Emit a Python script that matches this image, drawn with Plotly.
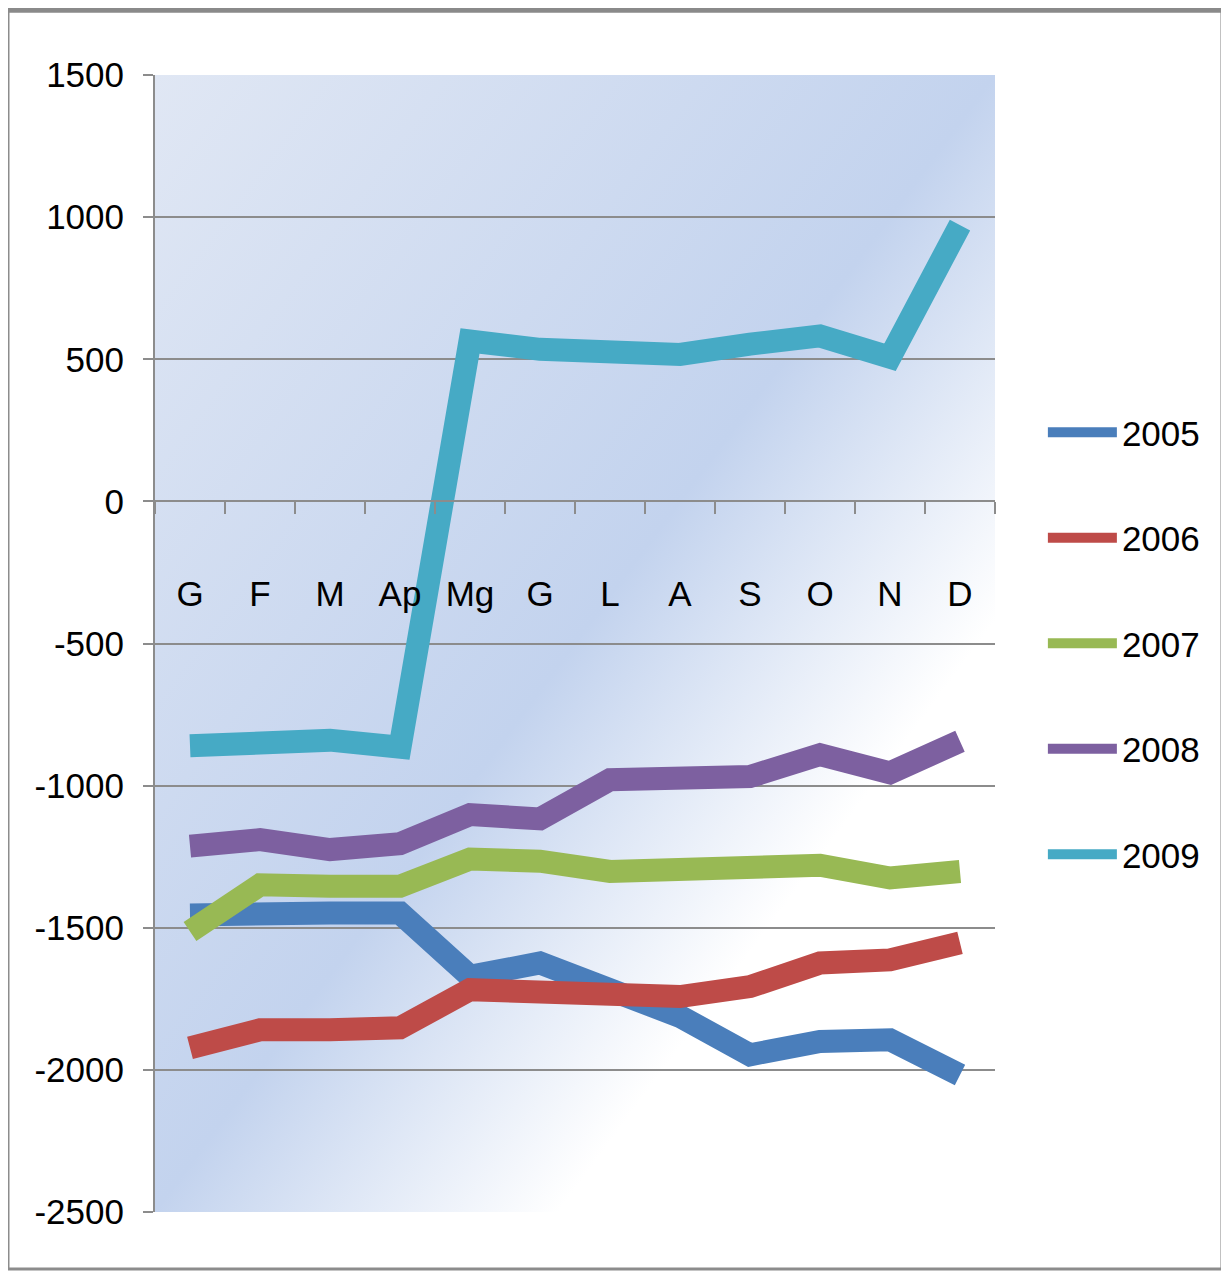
import base64
import plotly.graph_objects as go

months = ["G", "F", "M", "Ap", "Mg", "G", "L", "A", "S", "O", "N", "D"]
x_idx = list(range(len(months)))

years = ["2005", "2006", "2007", "2008", "2009"]
v2005 = [-1455, -1442, -1448, -1448, -1671, -1624, -1729, -1812, -1947, -1900, -1894, -2018]
v2006 = [-1923, -1859, -1859, -1852, -1718, -1724, -1736, -1742, -1707, -1624, -1613, -1553]
v2007 = [-1513, -1349, -1354, -1354, -1258, -1266, -1302, -1296, -1290, -1280, -1325, -1302]
v2008 = [-1213, -1190, -1225, -1204, -1102, -1117, -979, -976, -968, -891, -955, -844]
v2009 = [-860, -840, -840, -865, 564, 535, 517, 517, 553, 582, 507, 972]
series = [v2005, v2006, v2007, v2008, v2009]
colors = ["#4a7ebb", "#be4b48", "#98b954", "#7d60a0", "#46aac5"]

y_ticks = [-2500, -2000, -1500, -1000, -500, 0, 500, 1000, 1500]
y_ticktext = ["-2500", "-2000", "-1500", "-1000", "-500", "0", "500", "1000", "1500"]

FONT = "Liberation Sans, Arial, sans-serif"
FS = 35

fig = go.Figure()
for name, vals, col in zip(years, series, colors):
    fig.add_trace(go.Scatter(
        x=x_idx, y=vals, name=name, mode="lines",
        line=dict(color=col, width=23), legendgroup=name,
    ))

svg = ('<svg xmlns="http://www.w3.org/2000/svg" width="840" height="1137" '
       'viewBox="0 0 840 1137" preserveAspectRatio="none"><defs>'
       '<linearGradient id="g" x1="0" y1="0" x2="1" y2="1">'
       '<stop offset="0" stop-color="#e0e7f4"/>'
       '<stop offset="0.5" stop-color="#c3d3ee"/>'
       '<stop offset="0.74" stop-color="#ffffff"/>'
       '<stop offset="1" stop-color="#ffffff"/>'
       '</linearGradient></defs>'
       '<rect width="840" height="1137" fill="url(#g)"/></svg>')
uri = "data:image/svg+xml;base64," + base64.b64encode(svg.encode()).decode()

fig.update_layout(
    width=1229, height=1274,
    margin=dict(l=147, r=242, t=67, b=70),
    paper_bgcolor="white",
    plot_bgcolor="rgba(0,0,0,0)",
    font=dict(family=FONT, size=FS, color="black"),
    showlegend=True,
    legend=dict(
        x=1.057, xanchor="left", y=0.5, yanchor="middle",
        traceorder="grouped", tracegroupgap=57, itemwidth=69,
        font=dict(family=FONT, size=FS, color="black"),
        bgcolor="rgba(0,0,0,0)",
    ),
    images=[dict(source=uri, xref="paper", yref="paper", x=0, y=1,
                 sizex=1, sizey=1, xanchor="left", yanchor="top",
                 sizing="stretch", layer="below")],
    shapes=[
        dict(type="rect", xref="paper", yref="paper",
             x0=-0.175, x1=1.2702, y0=-0.0501, y1=1.0563,
             line=dict(color="#8c8c8c", width=3)),
        dict(type="line", xref="paper", yref="paper",
             x0=-0.175, x1=1.2702, y0=1.0572, y1=1.0572,
             line=dict(color="#8a8a8a", width=5)),
    ],
)

fig.update_xaxes(
    range=[-0.5, 11.5], tickmode="array", tickvals=x_idx, ticktext=months,
    ticks="", showgrid=False, zeroline=False,
    showline=True, linecolor="#8c8c8c", linewidth=2,
    anchor="free", position=0.625,
    ticklabelstandoff=62,
    minor=dict(tick0=0.5, dtick=1, ticks="outside", ticklen=12,
               tickcolor="#8c8c8c", tickwidth=2, showgrid=False),
    tickfont=dict(family=FONT, size=FS, color="black"),
)
fig.update_yaxes(
    range=[-2500, 1500], tickmode="array", tickvals=y_ticks, ticktext=y_ticktext,
    ticks="outside", ticklen=10, tickcolor="#8c8c8c", tickwidth=2,
    showgrid=True, gridcolor="#8c8c8c", gridwidth=2, zeroline=False,
    showline=True, linecolor="#8c8c8c", linewidth=2,
    ticklabelstandoff=12,
    tickfont=dict(family=FONT, size=FS, color="black"),
)

fig.write_html("out.html")
